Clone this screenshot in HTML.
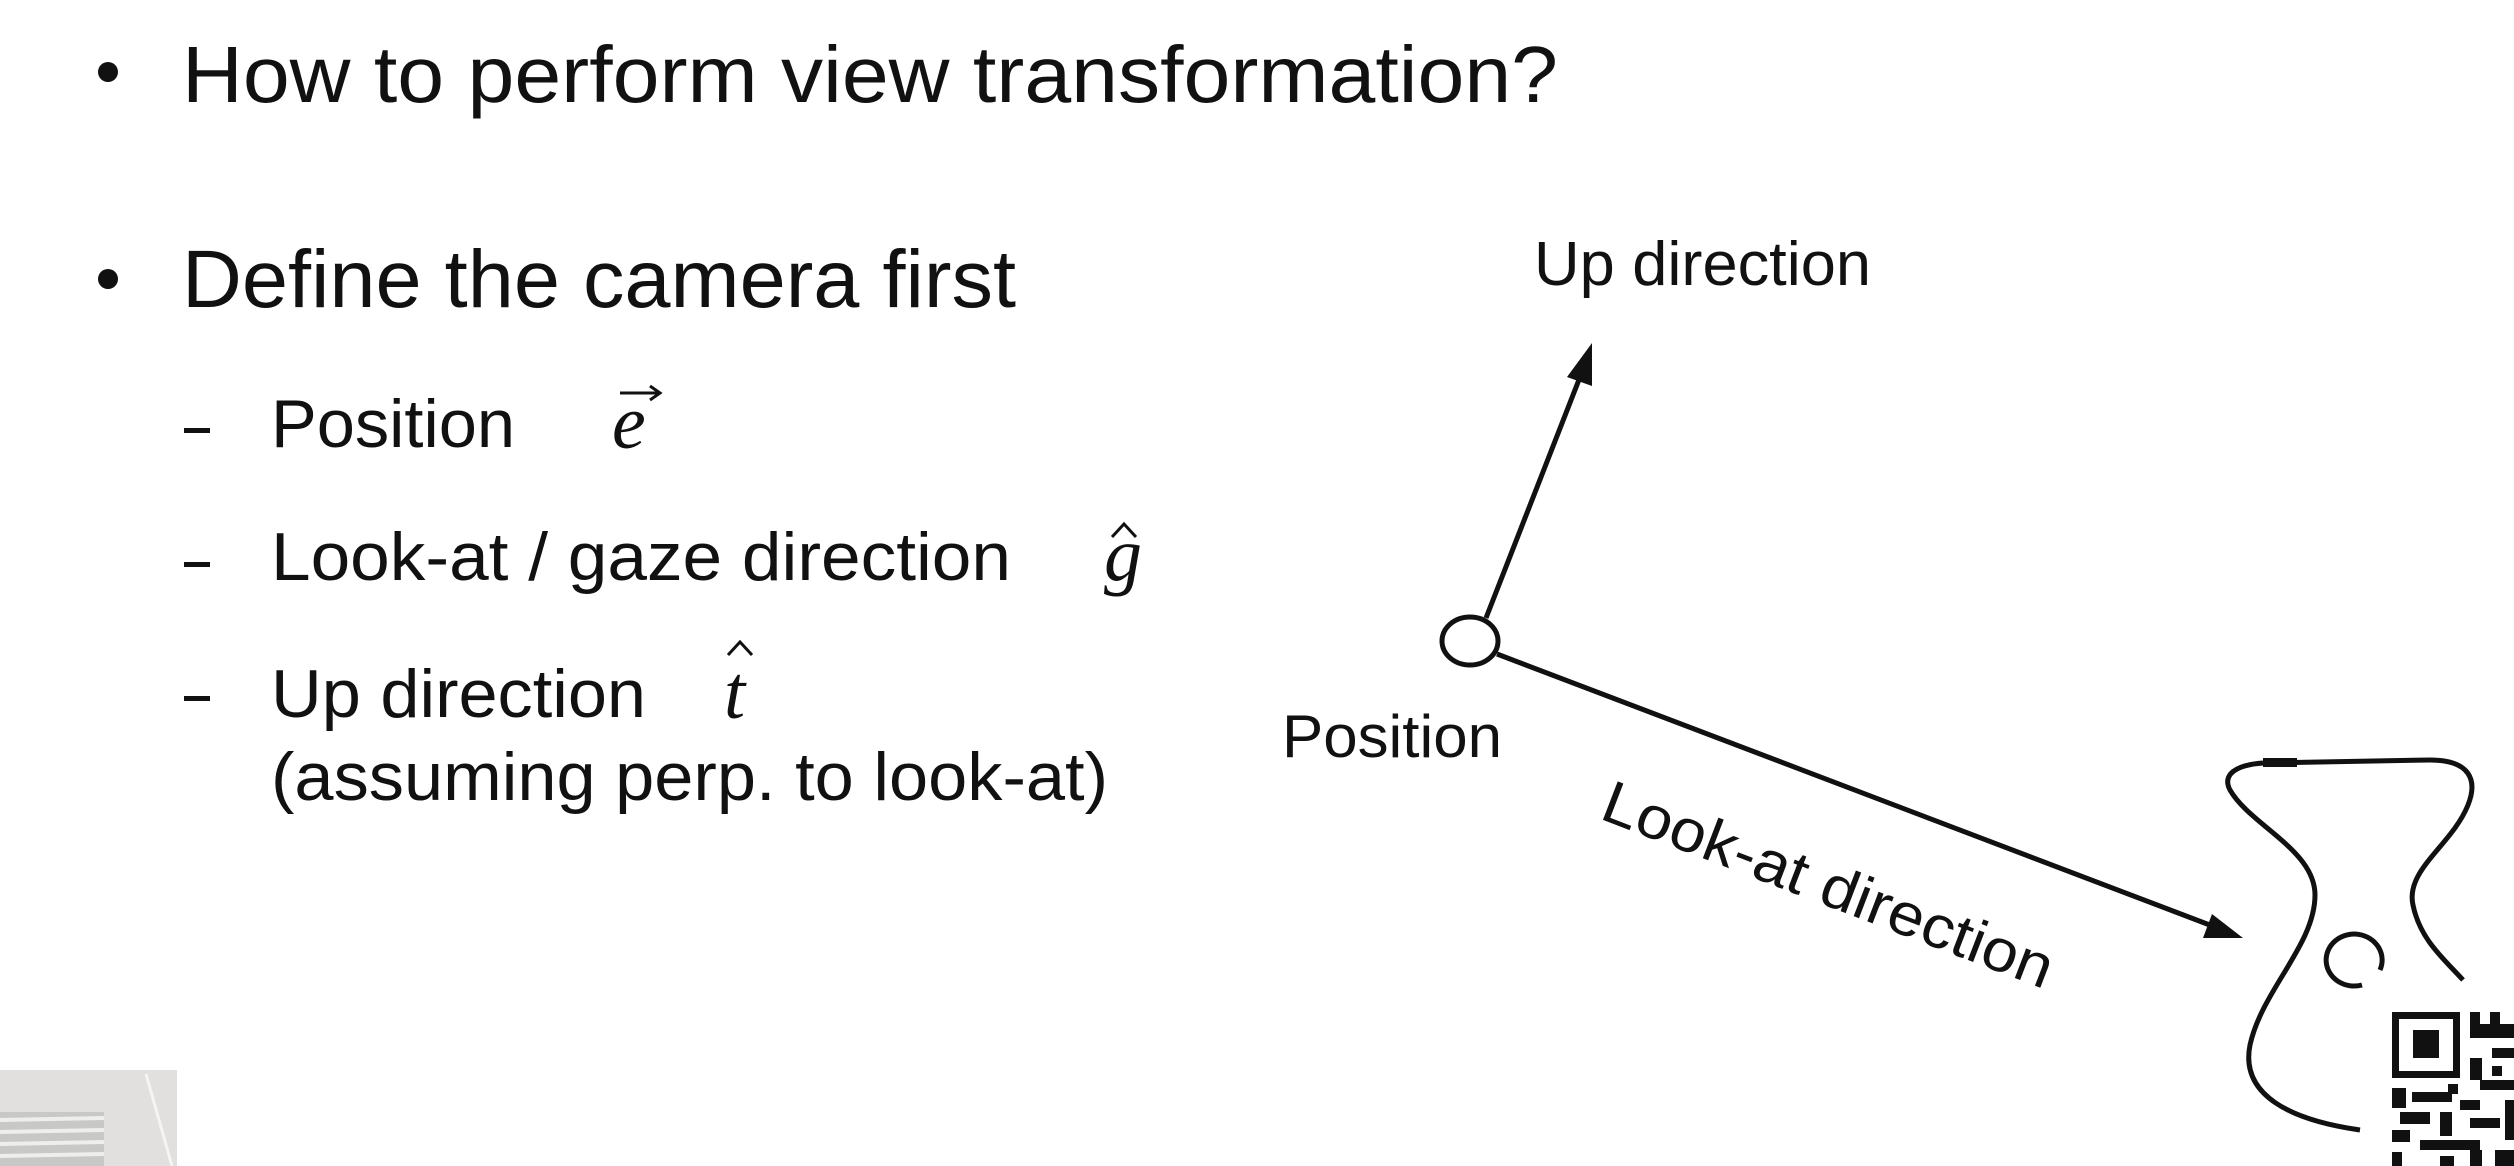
<!DOCTYPE html>
<html><head><meta charset="utf-8"><style>
html,body{margin:0;padding:0;background:#fff;width:2514px;height:1166px;overflow:hidden}
svg{display:block}
text{font-family:"Liberation Sans",sans-serif;fill:#111}
.m{font-family:"Liberation Serif",serif;font-style:italic}
</style></head><body>
<svg width="2514" height="1166" viewBox="0 0 2514 1166" xmlns="http://www.w3.org/2000/svg">
<!-- bullets -->
<circle cx="108" cy="72" r="10" fill="#111"/>
<text x="182" y="102" font-size="80" textLength="1376" lengthAdjust="spacingAndGlyphs">How to perform view transformation?</text>
<circle cx="108" cy="279" r="10" fill="#111"/>
<text x="182" y="307" font-size="82" textLength="834" lengthAdjust="spacingAndGlyphs">Define the camera first</text>
<!-- sub items -->
<rect x="184" y="428" width="26" height="5" fill="#111"/>
<text x="271" y="447" font-size="68" textLength="244" lengthAdjust="spacingAndGlyphs">Position</text>
<text class="m" x="612" y="448" font-size="76">e</text>
<path d="M620 393 L658 393 M650 386 L660 393 L650 400" stroke="#111" stroke-width="3" fill="none"/>
<rect x="184" y="562" width="26" height="5" fill="#111"/>
<text x="271" y="580" font-size="68" textLength="740" lengthAdjust="spacingAndGlyphs">Look-at / gaze direction</text>
<text class="m" x="1104" y="580" font-size="76">g</text>
<path d="M1112 537 L1124 524 L1136 537" stroke="#111" stroke-width="3" fill="none"/>
<rect x="184" y="696" width="26" height="5" fill="#111"/>
<text x="271" y="717" font-size="68" textLength="375" lengthAdjust="spacingAndGlyphs">Up direction</text>
<text class="m" x="724" y="718" font-size="76">t</text>
<path d="M728 655 L740 642 L752 655" stroke="#111" stroke-width="3" fill="none"/>
<text x="271" y="800" font-size="68" textLength="837" lengthAdjust="spacingAndGlyphs">(assuming perp. to look-at)</text>

<!-- diagram -->
<text x="1534" y="285" font-size="62" textLength="337" lengthAdjust="spacingAndGlyphs">Up direction</text>
<line x1="1486" y1="618" x2="1582" y2="372" stroke="#111" stroke-width="5"/>
<polygon points="1592,343 1567,377 1592,386" fill="#111"/>
<ellipse cx="1470" cy="641" rx="28" ry="24" fill="#fff" stroke="#111" stroke-width="5"/>
<line x1="1497" y1="654" x2="2215" y2="927" stroke="#111" stroke-width="5"/>
<polygon points="2243,938 2212,914 2203,938" fill="#111"/>
<text x="1282" y="757" font-size="60" textLength="220" lengthAdjust="spacingAndGlyphs">Position</text>
<text x="0" y="0" font-size="60" textLength="478" lengthAdjust="spacingAndGlyphs" transform="translate(1598,818) rotate(21)">Look-at direction</text>

<!-- blob -->
<path d="M2263 763 L2430 760 C2470 760 2478 780 2468 805 C2452 845 2405 870 2413 905 C2420 940 2445 960 2463 980" stroke="#111" stroke-width="5" fill="none"/>
<path d="M2263 763 C2235 765 2222 775 2230 790 C2250 825 2315 850 2315 895 C2315 945 2262 990 2250 1045 C2240 1095 2290 1120 2360 1130" stroke="#111" stroke-width="5" fill="none"/>
<rect x="2263" y="758" width="34" height="9" fill="#111"/>
<path d="M2362 985 A 28 26 0 1 1 2380 970" stroke="#111" stroke-width="5" fill="none"/>

<!-- QR -->
<g fill="#111">
<rect x="2392" y="1012" width="68" height="66"/>
<rect x="2399" y="1019" width="54" height="52" fill="#fff"/>
<rect x="2413" y="1030" width="26" height="28"/>
<rect x="2470" y="1012" width="10" height="12"/><rect x="2490" y="1012" width="10" height="12"/>
<rect x="2470" y="1024" width="44" height="14"/>
<rect x="2492" y="1048" width="22" height="10"/>
<rect x="2470" y="1058" width="12" height="22"/><rect x="2492" y="1066" width="10" height="10"/>
<rect x="2480" y="1080" width="34" height="10"/>
<rect x="2392" y="1088" width="14" height="20"/><rect x="2412" y="1092" width="40" height="10"/>
<rect x="2448" y="1084" width="10" height="10"/><rect x="2460" y="1100" width="20" height="10"/>
<rect x="2400" y="1112" width="30" height="12"/><rect x="2440" y="1112" width="12" height="24"/>
<rect x="2470" y="1118" width="30" height="10"/><rect x="2505" y="1100" width="9" height="40"/>
<rect x="2392" y="1130" width="18" height="12"/><rect x="2420" y="1140" width="60" height="10"/>
<rect x="2392" y="1152" width="10" height="14"/><rect x="2440" y="1156" width="14" height="10"/>
<rect x="2470" y="1150" width="12" height="16"/><rect x="2495" y="1150" width="19" height="16"/>
</g>

<!-- bottom-left object -->
<rect x="0" y="1070" width="177" height="96" fill="#e2e0de"/>
<rect x="0" y="1112" width="104" height="54" fill="#c8c8c6"/>
<g stroke="#eeeeec" stroke-width="4">
<line x1="0" y1="1120" x2="104" y2="1118"/><line x1="0" y1="1132" x2="104" y2="1130"/>
<line x1="0" y1="1144" x2="104" y2="1142"/><line x1="0" y1="1156" x2="104" y2="1154"/>
</g>
<line x1="146" y1="1074" x2="172" y2="1166" stroke="#f4f4f2" stroke-width="3"/>
</svg>
</body></html>
